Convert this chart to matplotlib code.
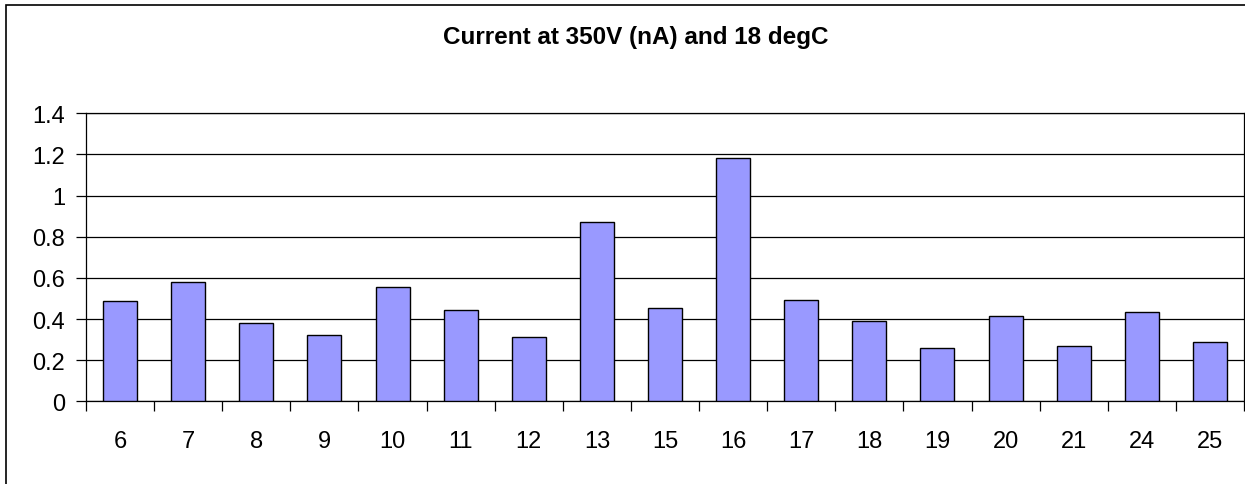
import matplotlib
matplotlib.use("Agg")
import matplotlib.pyplot as plt
from matplotlib.patches import Rectangle
import numpy as np

categories = ["6", "7", "8", "9", "10", "11", "12", "13", "15", "16", "17",
              "18", "19", "20", "21", "24", "25"]
values = [0.486, 0.582, 0.381, 0.321, 0.554, 0.446, 0.311, 0.873, 0.454,
          1.185, 0.494, 0.389, 0.261, 0.416, 0.271, 0.436, 0.288]
yticks = [0, 0.2, 0.4, 0.6, 0.8, 1.0, 1.2, 1.4]
ytick_labels = ["0", "0.2", "0.4", "0.6", "0.8", "1", "1.2", "1.4"]
title = "Current at 350V (nA) and 18 degC"

plt.rcParams['font.family'] = ['Liberation Sans', 'DejaVu Sans']

W, H = 1245, 485
fig = plt.figure(figsize=(W / 100, H / 100), dpi=100)
ax = fig.add_axes([86 / W, 1 - 402.3 / H, (1244 - 86) / W, (402.3 - 114.3) / H])

x = np.arange(len(categories))
ax.set_axisbelow(True)
ax.bar(x, values, width=0.5, color="#9999FF", edgecolor="black", linewidth=1.0, zorder=3)

ax.set_xlim(-0.5, len(categories) - 0.5)
ax.set_ylim(0, 1.4)
ax.set_yticks(yticks)
ax.set_yticklabels(ytick_labels, fontsize=17)
ax.yaxis.grid(True, color="black", linewidth=0.9)
ax.set_xticks(x)
ax.set_xticklabels(categories, fontsize=17)
ax.set_xticks(np.arange(-0.5, len(categories), 1.0), minor=True)
ax.tick_params(axis='x', which='major', length=0, pad=21)
ax.tick_params(axis='x', which='minor', length=7, width=0.9, direction='out', color='black')
ax.tick_params(axis='y', which='major', length=7, width=0.9, direction='out', pad=8)

for s in ax.spines.values():
    s.set_color("black")
    s.set_linewidth(0.9)

fig.text(636 / W, 1 - 37.5 / H, title, ha='center', va='center', fontsize=17.5, fontweight='bold')

fig.patches.append(Rectangle((6 / W, -0.1), 1.2, 1 - 6 / H + 0.1, transform=fig.transFigure,
                             fill=False, edgecolor='black', linewidth=1.2))

fig.savefig("out.png", dpi=100)
